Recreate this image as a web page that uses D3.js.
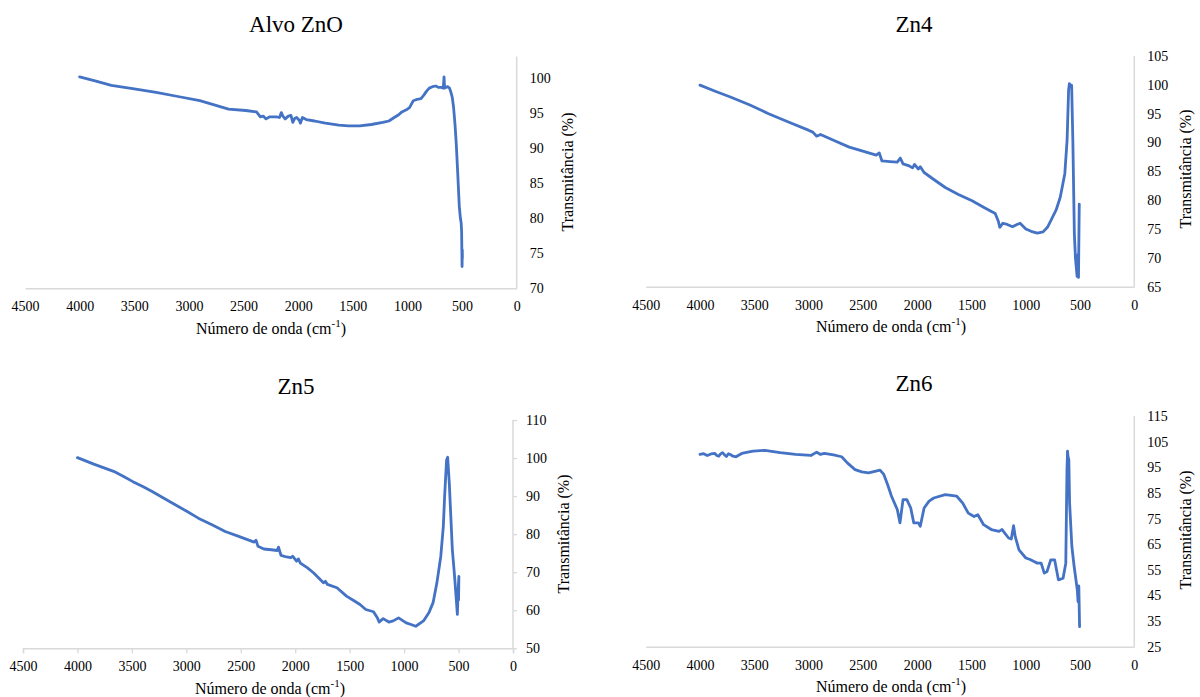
<!DOCTYPE html>
<html>
<head>
<meta charset="utf-8">
<script src="https://cdn.jsdelivr.net/npm/d3@7"></script>
<style>
  body { margin: 0; background: #fff; }
  svg { display: block; }
  text { font-family: "Liberation Serif", "DejaVu Serif", "Noto Serif", serif !important; fill: #000; }
</style>
</head>
<body>
<svg id="chart" width="1200" height="697"></svg>
<script>
// ---------- DATA ----------
const xTickValues = [4500, 4000, 3500, 3000, 2500, 2000, 1500, 1000, 500, 0];

const titles = ["Alvo ZnO", "Zn4", "Zn5", "Zn6"];

const alvoWave = [4000,3850,3710,3500,3300,3100,2900,2637,2480,2381,2346,2320,2294,2260,2241,2200,2171,2154,2140,2119,2090,2066,2049,2030,2014,1990,1979,1961,1926,1850,1751,1628,1540,1436,1330,1226,1170,1121,1080,1051,1010,981,946,910,876,850,823,800,771,740,718,690,672,665,660,650,630,615,602,590,578,565,553,540,525,515,508,504,500,498,497,500];
const alvoT    = [100.2,99.6,99.0,98.5,98.0,97.4,96.8,95.6,95.4,95.2,94.5,94.6,94.2,94.5,94.5,94.5,94.4,95.1,94.6,94.2,94.6,94.7,93.7,94.3,94.4,94.0,93.6,94.4,94.1,93.9,93.6,93.3,93.2,93.2,93.4,93.7,93.9,94.4,94.8,95.2,95.5,95.8,96.8,97.0,97.1,97.6,98.2,98.6,98.8,98.9,98.7,98.7,98.6,100.2,98.6,98.7,98.8,98.6,98.0,97.3,95.9,93.5,90.6,86.5,81.6,80.0,79.3,78.0,73.1,75.5,74.5,74.0];

const zn4Wave = [4000,3860,3720,3540,3368,3180,2996,2961,2925,2890,2760,2625,2500,2377,2349,2324,2250,2183,2155,2130,2080,2042,2024,1989,1971,1936,1840,1741,1620,1494,1380,1281,1253,1239,1211,1170,1122,1090,1052,999,950,893,840,800,770,720,682,640,619,605,598,591,577,566,552,542,527,517,514,507];
const zn4T    = [99.95,98.9,97.9,96.5,95.0,93.5,92.1,91.8,91.1,91.4,90.3,89.2,88.5,87.8,88.2,86.8,86.7,86.6,87.3,86.3,86.0,85.6,86.2,85.4,85.8,84.8,83.5,82.2,81.0,79.9,78.7,77.7,76.4,75.3,76.0,75.8,75.4,75.7,76.0,75.0,74.6,74.3,74.5,75.3,76.4,78.3,80.5,84.6,90.4,99.1,100.2,100.0,99.9,90.4,74.1,70.0,66.8,70.6,66.6,79.3];

const zn5Wave = [4000,3850,3668,3580,3491,3400,3314,3150,2996,2890,2760,2643,2519,2377,2360,2342,2289,2220,2165,2154,2130,2080,2041,2024,1988,1971,1953,1890,1830,1741,1723,1705,1617,1529,1460,1405,1352,1281,1246,1228,1193,1140,1100,1051,981,930,893,822,770,734,699,663,640,628,610,600,585,570,557,539,522,511,504,497,500];
const zn5T    = [100.1,98.4,96.5,95.2,93.8,92.5,91.2,88.5,86.0,84.2,82.4,80.7,79.4,77.9,78.4,76.8,76.1,75.9,75.7,76.6,74.4,74.0,73.8,74.2,72.9,73.5,72.4,71.2,69.8,67.2,67.6,66.8,65.9,63.7,62.5,61.5,60.2,59.6,58.0,56.9,57.8,56.9,57.2,58.0,56.7,56.2,55.8,57.2,59.5,62.0,67.2,74.2,82.0,89.9,99.5,100.2,93.4,84.0,75.9,69.8,63.3,58.9,65.0,68.9,62.7];

const zn6Wave = [4000,3966,3933,3898,3863,3845,3827,3810,3792,3774,3756,3738,3721,3695,3668,3640,3615,3560,3509,3403,3261,3120,2978,2925,2890,2855,2770,2695,2643,2572,2510,2448,2342,2307,2270,2236,2183,2158,2130,2095,2059,2031,1989,1971,1936,1890,1847,1741,1635,1580,1529,1476,1441,1388,1317,1246,1218,1158,1133,1112,1097,1062,999,960,928,893,858,829,804,769,734,699,656,631,620,615,610,603,596,575,554,525,518,511,504];
const zn6T    = [100.0,100.3,99.6,100.2,100.4,99.6,99.3,100.2,100.7,99.8,99.2,100.3,100.0,99.3,99.1,99.8,100.4,100.9,101.3,101.6,100.7,100.0,99.6,100.9,100.0,100.4,99.8,99.1,96.7,94.1,93.2,92.8,93.9,92.2,88.0,83.7,78.5,73.3,82.4,82.4,79.1,73.3,73.3,72.0,79.1,81.8,83.0,84.3,83.7,81.0,77.1,75.8,76.5,72.6,70.7,70.0,70.7,67.4,67.0,72.2,68.0,62.8,59.6,59.0,58.3,57.6,57.6,53.7,54.3,58.9,58.9,51.1,51.7,57.6,94.1,101.3,99.0,98.0,81.1,64.1,56.3,47.2,42.6,48.7,32.8];

const yTicksAlvo = [70, 75, 80, 85, 90, 95, 100];
const yTicksZn4  = [65, 70, 75, 80, 85, 90, 95, 100, 105];
const yTicksZn5  = [50, 60, 70, 80, 90, 100, 110];
const yTicksZn6  = [25, 35, 45, 55, 65, 75, 85, 95, 105, 115];

const xAxisTitle = "Número de onda (cm";
const yAxisTitle = "Transmitância (%)";

// ---------- LAYOUT ----------
const panels = [
  { title: titles[0], wave: alvoWave, t: alvoT, yTicks: yTicksAlvo, yDom: [70, 100], yAxisTop: 103.1,
    x0: 25, x1: 516.7, yb: 288.3, yt: 78.3, titleX: 296, titleY: 24, xtX: 271, xtY: 328, ytX: 567, ytY: 172, ticks: false },
  { title: titles[1], wave: zn4Wave, t: zn4T, yTicks: yTicksZn4, yDom: [65, 105], yAxisTop: 105,
    x0: 645.7, x1: 1134.3, yb: 286.7, yt: 56, titleX: 914, titleY: 24, xtX: 891, xtY: 326, ytX: 1185, ytY: 169, ticks: false },
  { title: titles[2], wave: zn5Wave, t: zn5T, yTicks: yTicksZn5, yDom: [50, 110], yAxisTop: 110,
    x0: 23, x1: 513, yb: 648.3, yt: 420, titleX: 296, titleY: 386, xtX: 270, xtY: 688, ytX: 563, ytY: 534, ticks: true },
  { title: titles[3], wave: zn6Wave, t: zn6T, yTicks: yTicksZn6, yDom: [25, 115], yAxisTop: 115,
    x0: 645.7, x1: 1134.3, yb: 646.7, yt: 416, titleX: 914, titleY: 383, xtX: 891, xtY: 686, ytX: 1185, ytY: 530, ticks: false }
];

const svg = d3.select("#chart");
const axisColor = "#d9d9d9";
const lineColor = "#4472C4";

panels.forEach(p => {
  const g = svg.append("g");
  const x = d3.scaleLinear().domain([4500, 0]).range([p.x0, p.x1]);
  const y = d3.scaleLinear().domain(p.yDom).range([p.yb, p.yt]);

  // x axis
  const xAxis = d3.axisBottom(x).tickValues(xTickValues).tickSize(p.ticks ? 5 : 0).tickPadding(p.ticks ? 8 : 13).tickFormat(d3.format("d"));
  const xa = g.append("g").attr("transform", `translate(0,${p.yb})`).call(xAxis);
  xa.attr("font-family", null);
  xa.select(".domain").attr("stroke", axisColor).attr("stroke-width", 1.5);
  xa.selectAll(".tick line").attr("stroke", axisColor).attr("stroke-width", 1.3);
  xa.selectAll(".tick text").attr("font-size", 14).attr("fill", "#000");

  // y axis (right side at x=0)
  const yAxis = d3.axisRight(y).tickValues(p.yTicks).tickSize(p.ticks ? 4 : 0).tickPadding(p.ticks ? 9 : 13);
  const ya = g.append("g").attr("transform", `translate(${p.x1},0)`).call(yAxis);
  ya.attr("font-family", null);
  ya.select(".domain").remove();
  ya.append("line").attr("x1", 0).attr("x2", 0).attr("y1", y(p.yAxisTop)).attr("y2", p.yb)
    .attr("stroke", axisColor).attr("stroke-width", 1.5);
  ya.selectAll(".tick line").attr("stroke", axisColor).attr("stroke-width", 1.3);
  ya.selectAll(".tick text").attr("font-size", 14).attr("fill", "#000");

  // series line
  const pts = p.wave.map((w, i) => [w, p.t[i]]);
  g.append("path").datum(pts)
    .attr("fill", "none").attr("stroke", lineColor).attr("stroke-width", 2.8)
    .attr("stroke-linejoin", "round").attr("stroke-linecap", "round")
    .attr("d", d3.line().x(d => x(d[0])).y(d => y(d[1])));

  // title
  g.append("text").attr("x", p.titleX).attr("y", p.titleY).attr("text-anchor", "middle")
    .attr("dominant-baseline", "central").attr("font-size", 23).text(p.title);

  // x axis title
  const xt = g.append("text").attr("x", p.xtX).attr("y", p.xtY).attr("text-anchor", "middle")
    .attr("dominant-baseline", "central").attr("font-size", 16);
  xt.append("tspan").text(xAxisTitle);
  xt.append("tspan").attr("font-size", 11).attr("dy", -5).text("-1");
  xt.append("tspan").attr("dy", 5).text(")");

  // y axis title
  g.append("text").attr("transform", `translate(${p.ytX},${p.ytY}) rotate(-90)`)
    .attr("text-anchor", "middle").attr("dominant-baseline", "central").attr("font-size", 16).text(yAxisTitle);
});
</script>
</body>
</html>
